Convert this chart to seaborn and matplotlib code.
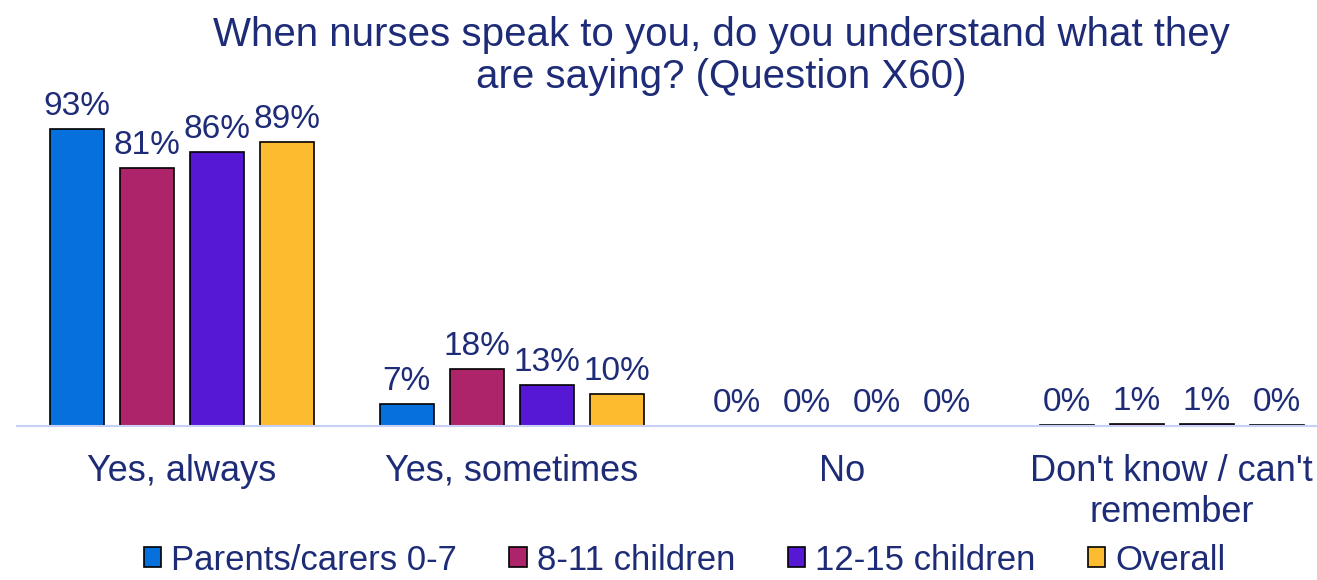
import matplotlib
matplotlib.use('Agg')
import matplotlib.pyplot as plt
import seaborn as sns
import pandas as pd

answers = ['Yes, always', 'Yes, sometimes', 'No', "Don't know / can't\nremember"]
groups = ['Parents/carers 0-7', '8-11 children', '12-15 children', 'Overall']
values = {
    'Parents/carers 0-7': [93, 7, 0, 0.4],
    '8-11 children': [81, 18, 0, 0.7],
    '12-15 children': [86, 13, 0, 0.7],
    'Overall': [89, 10, 0, 0.4],
}
colors = ['#0670DC', '#AD246A', '#5718D6', '#FDBB30']
text_color = '#1E2C78'

rows = []
for g in groups:
    for a, v in zip(answers, values[g]):
        rows.append({'answer': a, 'group': g, 'pct': v})
df = pd.DataFrame(rows)

sns.set_style('white')
plt.rcParams['font.family'] = ['Liberation Sans', 'DejaVu Sans']

fig = plt.figure(figsize=(13.17, 5.8), dpi=100)
ax = fig.add_axes([17 / 1317, 0.2655, 1300 / 1317, 0.55])

sns.barplot(data=df, x='answer', y='pct', hue='group', palette=colors,
            saturation=1, edgecolor='black', linewidth=1.2, width=0.85, gap=0.23,
            ax=ax, legend=True)

for cont in ax.containers:
    ax.bar_label(cont, labels=[f'{round(v)}%' for v in cont.datavalues],
                 padding=5, fontsize=24, color=text_color)

ax.set_ylim(0, 100)
ax.set_xlim(-0.5, 3.44)
ax.set_xlabel('')
ax.set_ylabel('')
ax.set_yticks([])
for s in ['top', 'right', 'left']:
    ax.spines[s].set_visible(False)
ax.spines['bottom'].set_color('#C8D0F5')
ax.spines['bottom'].set_linewidth(1.5)
ax.tick_params(axis='x', length=0, pad=20, labelsize=26, labelcolor=text_color)
for t in ax.get_xticklabels():
    t.set_linespacing(1.24)

handles, labels = ax.get_legend_handles_labels()
ax.get_legend().remove()
fig.legend(handles, labels, loc='lower center', bbox_to_anchor=(0.52, -0.048),
           ncol=4, frameon=False, fontsize=25, labelcolor=text_color,
           handlelength=0.5, handleheight=0.5, handletextpad=0.3, columnspacing=1.5)

fig.text(0.548, 0.972, 'When nurses speak to you, do you understand what they\nare saying? (Question X60)',
         ha='center', va='top', fontsize=29, color=text_color, linespacing=1.12)

fig.savefig('out.png', dpi=100)
